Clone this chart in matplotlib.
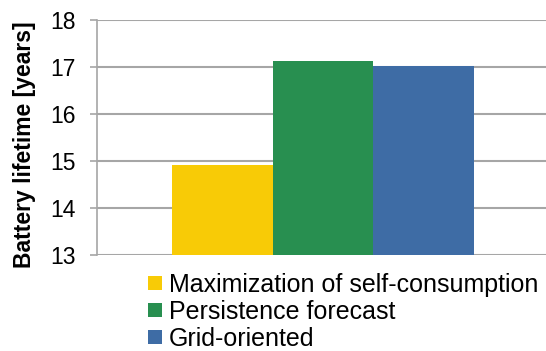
import numpy as np
from matplotlib import pyplot as plt

series = ['Maximization of self-consumption', 'Persistence forecast', 'Grid-oriented']
lifetime = [14.915, 17.13, 17.02]
colours = ['#F8CB06', '#288F50', '#3E6CA5']
yticks = [13, 14, 15, 16, 17, 18]

plt.rcParams['font.family'] = ['Liberation Sans', 'DejaVu Sans']

W, H = 546, 351
fig = plt.figure(figsize=(W/100, H/100), dpi=100)
ax = fig.add_axes([96.5/W, 1-255/H, 1-96.5/W, (255-20)/H])

grey = '#A6A6A6'
x = np.arange(len(series)) - 1
for xi, v, c, lab in zip(x, lifetime, colours, series):
    ax.bar(xi, v - 13, bottom=13, width=1.0, color=c, label=lab, zorder=3)

ax.set_ylim(13, 18)
ax.set_xlim(-2.249, 2.214)
ax.set_yticks(yticks)
ax.set_xticks([])
ax.yaxis.grid(True, color=grey, linewidth=1.5, zorder=0)
ax.tick_params(axis='y', length=5, width=1.2, color=grey, labelsize=16.5, pad=10)
for s in ['top', 'right', 'bottom']:
    ax.spines[s].set_visible(False)
ax.spines['left'].set_color(grey)
ax.spines['left'].set_linewidth(1.2)

ax.set_ylabel('Battery lifetime [years]', fontsize=16.5, fontweight='bold')
ax.yaxis.set_label_coords(-0.135, 0.468)

fig.legend(loc='upper left', bbox_to_anchor=(148/W, 1-273/H), frameon=False,
           fontsize=18, handlelength=0.55, handleheight=0.5, handletextpad=0.3,
           labelspacing=0.12, borderpad=0, borderaxespad=0)

fig.savefig('out.png', dpi=100)
